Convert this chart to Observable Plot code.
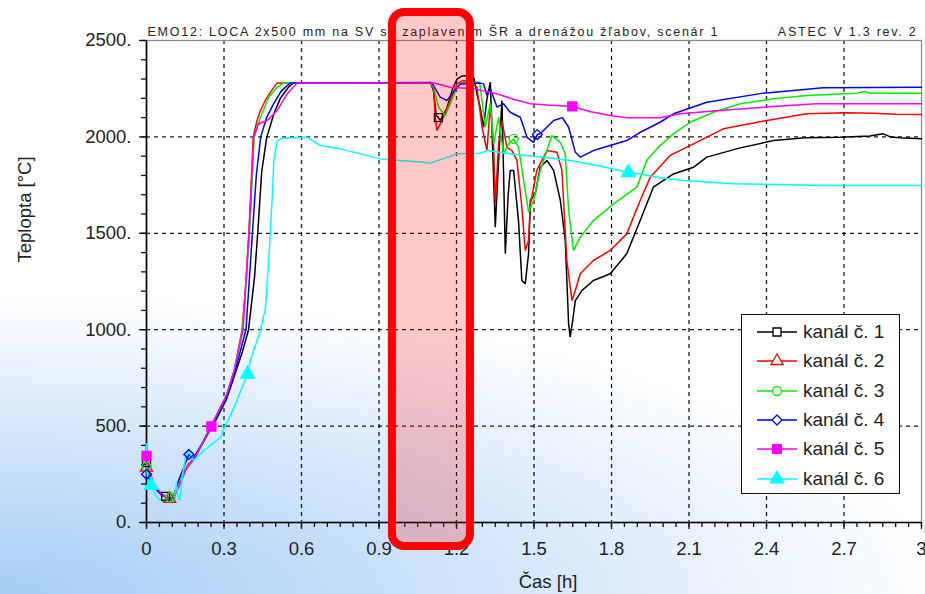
<!DOCTYPE html>
<html>
<head>
<meta charset="utf-8">
<script src="https://cdn.jsdelivr.net/npm/d3@7"></script>
<script src="https://cdn.jsdelivr.net/npm/@observablehq/plot@0.6"></script>
<style>
  html, body { margin: 0; padding: 0; }
  body {
    width: 925px; height: 594px; overflow: hidden; position: relative;
    background: radial-gradient(ellipse 950px 300px at 0px 594px, #a6cdf6 0%, #cbe2fa 45%, #ffffff 100%);
    font-family: "Liberation Sans", Arial, sans-serif;
  }
  #chart { position: absolute; left: 0; top: 0; }
  #legend {
    position: absolute; left: 741px; top: 314px; width: 157px; height: 178px;
    border: 1.5px solid #111; background: #fff;
  }
  #legend .row { position: absolute; left: 0; height: 24px; width: 157px; }
  #legend .row svg { position: absolute; left: 0; top: 0; }
  #legend .row span { position: absolute; left: 61px; top: 0; line-height: 24px; font-size: 19px; color: #222; }
</style>
</head>
<body>
<div id="chart"></div>
<div id="legend"></div>
<script>
// Teploty v kanáloch [°C] v čase [h]
const ch1 = [[0,310],[0.01,255],[0.03,195],[0.05,155],[0.074,136],[0.095,120],[0.12,175],[0.15,275],[0.19,345],[0.22,420],[0.25,490],[0.28,560],[0.31,640],[0.34,760],[0.37,880],[0.395,1000],[0.418,1270],[0.432,1530],[0.446,1820],[0.465,1995],[0.493,2120],[0.518,2200],[0.551,2260],[0.57,2280],[1.10,2280],[1.111,2240],[1.122,2110],[1.13,2100],[1.137,2085],[1.163,2150],[1.185,2250],[1.202,2300],[1.22,2315],[1.24,2318],[1.255,2300],[1.268,2305],[1.279,2224],[1.292,2150],[1.305,2050],[1.318,2200],[1.331,2284],[1.337,2050],[1.35,1532],[1.363,1878],[1.376,2189],[1.389,1394],[1.40,1700],[1.408,1826],[1.421,1826],[1.44,1566],[1.453,1255],[1.466,1238],[1.479,1394],[1.486,1670],[1.505,1705],[1.524,1843],[1.55,1878],[1.576,1826],[1.602,1670],[1.621,1463],[1.634,1031],[1.64,961],[1.65,1050],[1.66,1151],[1.685,1203],[1.73,1255],[1.795,1290],[1.859,1394],[1.911,1566],[1.962,1739],[2.04,1808],[2.118,1843],[2.169,1895],[2.298,1943],[2.427,1981],[2.55,1995],[2.685,1998],[2.80,2005],[2.852,2016],[2.88,2000],[2.917,1995],[3,1990]];
const ch2 = [[0,285],[0.01,240],[0.03,185],[0.06,140],[0.09,123],[0.1,112],[0.12,170],[0.15,270],[0.19,340],[0.22,420],[0.25,500],[0.28,580],[0.31,660],[0.34,790],[0.37,1000],[0.385,1250],[0.396,1500],[0.405,1750],[0.413,2000],[0.428,2085],[0.441,2137],[0.46,2189],[0.48,2232],[0.506,2280],[1.10,2280],[1.111,2250],[1.118,2102],[1.124,2033],[1.144,2085],[1.176,2189],[1.202,2275],[1.227,2293],[1.25,2284],[1.279,2258],[1.299,2050],[1.318,1929],[1.331,2172],[1.344,1947],[1.35,1653],[1.363,1964],[1.376,2085],[1.395,1947],[1.415,1929],[1.434,1878],[1.453,1635],[1.466,1411],[1.479,1463],[1.486,1653],[1.511,1826],[1.55,1929],[1.589,1920],[1.608,1826],[1.627,1359],[1.647,1151],[1.66,1203],[1.679,1290],[1.73,1359],[1.795,1411],[1.859,1497],[1.911,1670],[1.95,1791],[2.027,1904],[2.104,1955],[2.233,2042],[2.401,2085],[2.556,2120],[2.70,2125],[2.814,2123],[2.9,2118],[3,2116]];
const ch3 = [[0,290],[0.01,248],[0.03,190],[0.06,142],[0.093,131],[0.1,116],[0.12,175],[0.15,275],[0.19,345],[0.22,425],[0.25,500],[0.28,580],[0.31,660],[0.34,790],[0.372,1000],[0.386,1250],[0.399,1500],[0.408,1750],[0.417,2000],[0.441,2102],[0.473,2206],[0.506,2258],[0.532,2280],[1.10,2280],[1.111,2258],[1.131,2154],[1.157,2111],[1.176,2172],[1.202,2258],[1.227,2284],[1.29,2284],[1.311,2050],[1.331,2172],[1.344,1964],[1.363,2102],[1.382,1912],[1.402,1964],[1.421,1990],[1.44,1947],[1.46,1774],[1.479,1609],[1.498,1670],[1.524,1826],[1.569,2007],[1.602,1972],[1.621,1912],[1.634,1618],[1.653,1411],[1.679,1480],[1.73,1566],[1.808,1653],[1.898,1739],[1.937,1880],[1.988,1955],[2.04,2016],[2.104,2076],[2.195,2128],[2.298,2172],[2.427,2198],[2.556,2215],[2.749,2227],[2.78,2235],[2.8,2227],[3,2227]];
const ch4 = [[0,250],[0.01,222],[0.03,182],[0.06,142],[0.09,122],[0.1,118],[0.125,220],[0.164,353],[0.18,330],[0.22,420],[0.25,495],[0.28,575],[0.31,650],[0.34,770],[0.385,1000],[0.41,1500],[0.425,1800],[0.442,2000],[0.465,2100],[0.492,2171],[0.52,2235],[0.544,2266],[0.56,2280],[1.105,2282],[1.118,2250],[1.137,2206],[1.163,2189],[1.183,2224],[1.215,2275],[1.292,2279],[1.305,2275],[1.318,2215],[1.331,2250],[1.357,2154],[1.382,2172],[1.408,2128],[1.447,2102],[1.473,1998],[1.498,1972],[1.513,2012],[1.524,2016],[1.576,2085],[1.61,2100],[1.634,2050],[1.66,1920],[1.679,1895],[1.73,1929],[1.859,1981],[1.911,2024],[1.988,2076],[2.04,2120],[2.169,2180],[2.388,2227],[2.62,2255],[3,2258]];
const ch5 = [[0,345],[0.01,270],[0.03,200],[0.06,145],[0.09,122],[0.1,118],[0.13,200],[0.16,300],[0.185,330],[0.22,420],[0.251,498],[0.28,580],[0.31,660],[0.34,790],[0.374,1000],[0.385,1250],[0.397,1500],[0.406,1750],[0.415,2000],[0.434,2068],[0.467,2085],[0.506,2137],[0.545,2224],[0.583,2280],[1.111,2280],[1.176,2258],[1.266,2250],[1.30,2240],[1.357,2224],[1.42,2195],[1.486,2172],[1.55,2165],[1.648,2158],[1.72,2130],[1.795,2111],[1.859,2099],[1.988,2099],[2.066,2120],[2.22,2137],[2.427,2158],[2.594,2172],[3,2172]];
const ch6 = [[0,408],[0.003,250],[0.008,200],[0.015,185],[0.018,192],[0.022,210],[0.028,160],[0.04,130],[0.06,110],[0.08,108],[0.1,105],[0.11,150],[0.116,207],[0.12,150],[0.128,114],[0.14,250],[0.151,339],[0.163,373],[0.182,321],[0.22,370],[0.286,441],[0.305,500],[0.34,600],[0.391,770],[0.402,840],[0.441,996],[0.46,1108],[0.473,1359],[0.486,1670],[0.493,1878],[0.506,1981],[0.525,1993],[0.622,1998],[0.673,1955],[0.75,1938],[0.905,1886],[1.073,1869],[1.099,1864],[1.202,1912],[1.292,1915],[1.318,1929],[1.42,1910],[1.537,1895],[1.64,1878],[1.75,1850],[1.865,1815],[1.911,1808],[1.988,1788],[2.079,1774],[2.272,1757],[2.633,1748],[3,1748]];

// Body so značkami na krivkách
const mark1 = [[0,310],[0.074,136],[1.13,2100]];
const mark2 = [[0,285],[0.09,123]];
const mark3 = [[0,290],[0.093,131],[1.421,1990]];
const mark4 = [[0,250],[0.164,353],[1.513,2012]];
const mark5 = [[0,345],[0.251,498],[1.648,2158]];
const mark6 = [[0.018,192],[0.391,770],[1.865,1815]];

const channels = ["kanál č. 1", "kanál č. 2", "kanál č. 3", "kanál č. 4", "kanál č. 5", "kanál č. 6"];
const colors = ["#000000", "#ff0000", "#00f000", "#0000ff", "#ff00ff", "#00ffff"];
const symbols = ["square", "triangle", "circle", "diamond2", "square", "triangle"];
const filled = [false, false, false, false, true, true];

const xTicks = [0, 0.3, 0.6, 0.9, 1.2, 1.5, 1.8, 2.1, 2.4, 2.7, 3];
const xTickLabels = ["0", "0.3", "0.6", "0.9", "1.2", "1.5", "1.8", "2.1", "2.4", "2.7", "3"];
const yTicks = [0, 500, 1000, 1500, 2000, 2500];
const yTickLabels = ["0.", "500.", "1000.", "1500.", "2000.", "2500."];

const titleLeft = "EMO12: LOCA 2x500 mm na SV so zaplavením ŠR a drenážou žľabov, scenár 1";
const titleRight = "ASTEC V 1.3 rev. 2";
const xLabel = "Čas [h]";
const yLabel = "Teplopta [°C]";

// zvýraznený úsek
const highlight = [{start: 0.952, end: 1.254, low: -124, high: 2645}];

const series = [ch1, ch2, ch3, ch4, ch5, ch6];
const markers = [mark1, mark2, mark3, mark4, mark5, mark6];
const lineRows = series.flatMap((s, i) => s.map(([t, v]) => ({t, v, k: channels[i]})));
const dotRows = markers.flatMap((s, i) => s.map(([t, v]) => ({t, v, k: channels[i], f: filled[i]})));

const font = "'Liberation Sans', Arial, sans-serif";
const xMinor = d3.range(0, 60.5, 1).map(i => i * 0.05);
const yMinor = d3.range(0, 25.5, 1).map(i => i * 100);

const chart = Plot.plot({
  width: 925, height: 594,
  marginLeft: 146, marginRight: 4, marginTop: 40, marginBottom: 72,
  style: {background: "transparent", color: "#111", fontFamily: font, fontSize: "18.5px", overflow: "visible"},
  x: {domain: [0, 3]},
  y: {domain: [0, 2500]},
  color: {domain: channels, range: colors},
  symbol: {domain: channels, range: symbols},
  marks: [
    Plot.gridX(xTicks.slice(1, -1), {stroke: "#000", strokeOpacity: 0.9, strokeWidth: 1.3, strokeDasharray: "4,4"}),
    Plot.gridY(yTicks.slice(1, -1), {stroke: "#000", strokeOpacity: 0.9, strokeWidth: 1.3, strokeDasharray: "4,4"}),
    Plot.frame({stroke: "#8c8c8c", strokeWidth: 1.3}),
    Plot.axisY(yMinor, {tickSize: 5, tickFormat: () => "", label: null, strokeWidth: 1.3}),
    Plot.axisY(yTicks, {tickSize: 7, tickPadding: 8, tickFormat: d => yTickLabels[yTicks.indexOf(d)], label: null, fontSize: 18.5, fill: "#222", strokeWidth: 1.3}),
    Plot.axisX(xMinor, {tickSize: 5, tickFormat: () => "", label: null, strokeWidth: 1.3}),
    Plot.axisX(xTicks, {tickSize: 7, tickPadding: 12, tickFormat: d => xTickLabels[xTicks.indexOf(d)], label: null, fontSize: 18.5, fill: "#222", strokeWidth: 1.3}),
    Plot.ruleX([0], {stroke: "#000", strokeWidth: 1.6}),
    Plot.ruleY([0], {stroke: "#000", strokeWidth: 1.6}),
    Plot.line(lineRows, {x: "t", y: "v", z: "k", stroke: "k", strokeWidth: 1.5, strokeLinejoin: "miter"}),
    Plot.dot(dotRows.filter(d => !d.f), {x: "t", y: "v", symbol: "k", stroke: "k", fill: "none", r: 4.5, strokeWidth: 1.3}),
    Plot.dot(dotRows.filter(d => d.f), {x: "t", y: "v", symbol: "k", fill: "k", stroke: "k", r: 5}),
    Plot.text([titleLeft], {text: d => d, frameAnchor: "top-left", textAnchor: "start", lineAnchor: "bottom", dx: 1, dy: -5, fontSize: 12.5, fill: "#222"}),
    Plot.text([titleRight], {text: d => d, frameAnchor: "top-right", textAnchor: "end", lineAnchor: "bottom", dx: -4, dy: -5, fontSize: 12.5, fill: "#222"}),
    Plot.text([xLabel], {text: d => d, frameAnchor: "bottom", lineAnchor: "middle", dx: 14, dy: 60, fontSize: 18.5, fill: "#222"}),
    Plot.text([yLabel], {text: d => d, frameAnchor: "left", lineAnchor: "middle", rotate: -90, dx: -121, dy: -19, fontSize: 18.5, fill: "#222"}),
    Plot.rect(highlight, {x1: "start", x2: "end", y1: "low", y2: "high", rx: 12, fill: "#ff0000", fillOpacity: 0.21, stroke: "#ff0000", strokeWidth: 8})
  ]
});
// nadpisy sú riedko sádzané
d3.select(chart).selectAll("text")
  .filter(function() { return this.textContent === titleLeft || this.textContent === titleRight; })
  .style("letter-spacing", "1.75px");
document.getElementById("chart").appendChild(chart);

// legenda
const legend = d3.select("#legend");
channels.forEach((name, i) => {
  const row = legend.append("div").attr("class", "row").style("top", (5 + i * 29.3) + "px");
  const svg = row.append("svg").attr("width", 60).attr("height", 24);
  svg.append("line").attr("x1", 15).attr("x2", 55).attr("y1", 12).attr("y2", 12)
    .attr("stroke", colors[i]).attr("stroke-width", 1.5);
  const symType = {square: d3.symbolSquare, triangle: d3.symbolTriangle, circle: d3.symbolCircle, diamond2: d3.symbolDiamond2}[symbols[i]];
  svg.append("path").attr("d", d3.symbol(symType, filled[i] ? 78 : 64)())
    .attr("transform", "translate(35,12)")
    .attr("fill", filled[i] ? colors[i] : "#fff")
    .attr("stroke", colors[i]).attr("stroke-width", 1.3);
  row.append("span").text(name);
});
</script>
</body>
</html>
